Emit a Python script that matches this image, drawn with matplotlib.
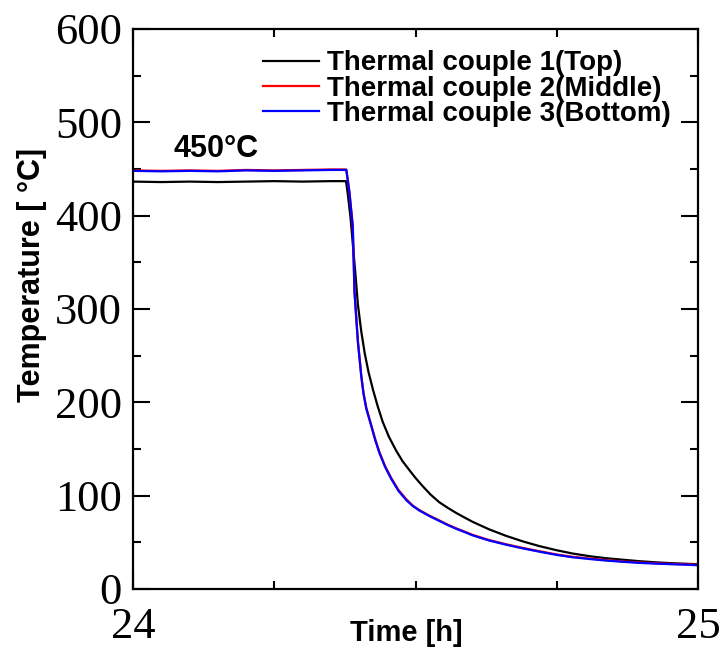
import matplotlib
matplotlib.use("Agg")
import matplotlib.pyplot as plt
from matplotlib.ticker import MultipleLocator

# --- data ---
t_top = [24.0, 24.05, 24.1, 24.15, 24.2, 24.25, 24.3, 24.35, 24.377, 24.380,
         24.385, 24.389, 24.394, 24.398, 24.404, 24.41, 24.417, 24.425, 24.433,
         24.442, 24.453, 24.466, 24.477, 24.489, 24.5, 24.513, 24.527, 24.542,
         24.557, 24.572, 24.587, 24.601, 24.63, 24.66, 24.69, 24.719, 24.75,
         24.778, 24.81, 24.837, 24.87, 24.896, 24.925, 24.955, 24.98, 25.0]
T_top = [436.5, 436.0, 436.5, 436.0, 436.5, 437.0, 436.5, 437.0, 437.0, 424,
         398, 370, 335, 305, 276, 253, 232, 213, 196, 179, 163, 148, 137, 127.5,
         119, 110, 101, 93, 87, 81.5, 76.5, 72, 64, 57, 51, 46, 41.5, 38, 35,
         33, 31.2, 29.8, 28.6, 27.6, 27, 26.5]

t_bot = [24.0, 24.05, 24.1, 24.15, 24.2, 24.25, 24.3, 24.35, 24.3775, 24.383,
         24.389, 24.392, 24.398, 24.404, 24.408, 24.413, 24.422, 24.429, 24.436,
         24.446, 24.457, 24.47, 24.484, 24.495, 24.507, 24.525, 24.542, 24.557,
         24.572, 24.587, 24.601, 24.63, 24.66, 24.69, 24.719, 24.75, 24.778,
         24.81, 24.837, 24.87, 24.896, 24.925, 24.955, 24.98, 25.0]
T_bot = [448.0, 447.5, 448.0, 447.5, 448.5, 448.0, 448.5, 449.0, 449.0, 425,
         388, 318, 265, 228, 209, 193, 174, 159, 146, 131, 118, 105, 95, 89,
         84, 78, 73, 68.5, 64.5, 61, 57.5, 52, 47.5, 43.5, 40, 36.5, 34, 32,
         30.5, 29, 28, 27.2, 26.5, 26, 25.4]

t_mid = t_bot
T_mid = [448.5, 448.0, 448.5, 448.0, 449.0, 448.5, 449.0, 449.5, 449.5, 426,
         389, 319, 266, 229, 210, 194, 175, 160, 147, 132, 119, 106, 96, 89.5,
         84.5, 78.5, 73.5, 69, 65, 61.5, 58, 52.5, 48, 44, 40.5, 37, 34.5, 32.5,
         31, 29.4, 28.4, 27.6, 26.9, 26.4, 25.8]

labels = ["Thermal couple 1(Top)", "Thermal couple 2(Middle)", "Thermal couple 3(Bottom)"]

serif = "Liberation Serif"
sans = "Liberation Sans"

fig = plt.figure(figsize=(7.2, 6.48), dpi=100)
ax = fig.add_axes([133 / 720, 59 / 648, 565 / 720, 560 / 648])

ax.plot(t_top, T_top, color="black", lw=1.6, label=labels[0])
ax.plot(t_mid, T_mid, color="red", lw=1.6, label=labels[1])
ax.plot(t_bot, T_bot, color="blue", lw=1.6, label=labels[2])

ax.set_xlim(24, 25)
ax.set_ylim(0, 600)
ax.xaxis.set_major_locator(MultipleLocator(1))
ax.xaxis.set_minor_locator(MultipleLocator(0.25))
ax.yaxis.set_major_locator(MultipleLocator(100))
ax.yaxis.set_minor_locator(MultipleLocator(50))

for s in ax.spines.values():
    s.set_linewidth(1.6)

ax.tick_params(which="both", direction="in", top=True, right=True, width=1.5)
ax.tick_params(which="major", length=12)
ax.tick_params(which="minor", length=6)
ax.tick_params(axis="x", which="major", pad=13)
ax.tick_params(axis="y", which="major", pad=8)

for lab in ax.get_xticklabels() + ax.get_yticklabels():
    lab.set_fontfamily(serif)
    lab.set_fontsize(32)

ax.set_xlabel("Time [h]", fontfamily=sans, fontweight="bold", fontsize=21)
ax.xaxis.set_label_coords(0.484, -0.054)
ax.set_ylabel("Temperature [ °C]", fontfamily=sans, fontweight="bold", fontsize=22)
ax.yaxis.set_label_coords(-0.152, 0.56)

ax.text(24.071, 463, "450°C", fontfamily=sans, fontweight="bold", fontsize=22,
        ha="left", va="baseline")

ax.legend(loc="upper left", bbox_to_anchor=(0.23, 0.962), frameon=False,
          prop={"family": sans, "weight": "bold", "size": 20},
          borderpad=0, borderaxespad=0, labelspacing=-0.02,
          handlelength=2.0, handletextpad=0.3)

fig.savefig("out.png", dpi=100)
